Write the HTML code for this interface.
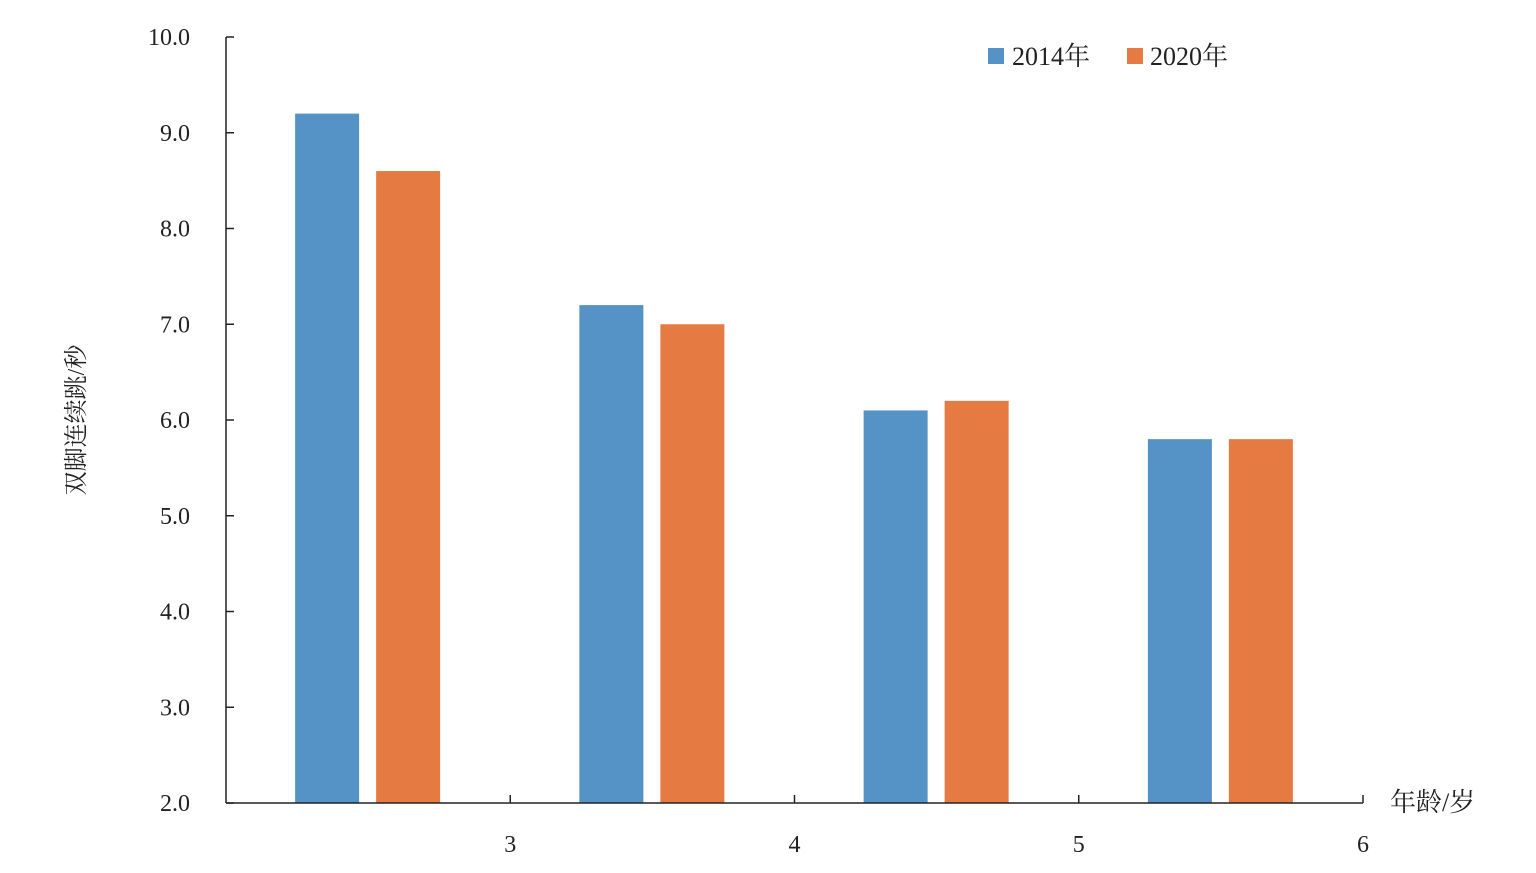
<!DOCTYPE html>
<html><head><meta charset="utf-8"><style>
html,body{margin:0;padding:0;background:#fff;}
svg text{font-family:"Liberation Serif","Noto Serif CJK SC",serif;fill:#222;}
</style></head><body>
<svg id="chart" width="1536" height="868"></svg>
<script>
const categories=["3","4","5","6"];
const series2014=[9.2,7.2,6.1,5.8];
const series2020=[8.6,7.0,6.2,5.8];
const yTicks=[2,3,4,5,6,7,8,9,10];
const seriesNames=["2014年","2020年"];
const colors=["#5592c6","#e57a42"];
const svg=document.getElementById('chart');
const NS='http://www.w3.org/2000/svg';
const X0=226,X1=1363,Y0=803,Y1=37,yMin=2,yMax=10;
const bandW=(X1-X0)/categories.length;
const y=v=>Y0-(v-yMin)/(yMax-yMin)*(Y0-Y1);
const xc=i=>X0+bandW*(i+0.5);
function el(t,a,p){const e=document.createElementNS(NS,t);for(const k in a)e.setAttribute(k,a[k]);(p||svg).appendChild(e);return e;}
// bars
[series2014,series2020].forEach((s,si)=>{
  s.forEach((v,i)=>{
    const bx=si===0?xc(i)-73:xc(i)+8;
    const r=el('rect',{x:bx,y:y(v),width:64,height:Y0-y(v),fill:colors[si]});
    
    
  });
});
// axes
const ya=el('line',{x1:X0,y1:Y1,x2:X0,y2:Y0,stroke:'#222','stroke-width':1.5});


const xa=el('line',{x1:X0,y1:Y0,x2:X1,y2:Y0,stroke:'#222','stroke-width':1.5});


yTicks.forEach(t=>{
  el('line',{x1:X0,y1:y(t),x2:X0+8,y2:y(t),stroke:'#222','stroke-width':1.5});
  const tx=el('text',{x:190,y:y(t)+8,'text-anchor':'end','font-size':24});
  tx.textContent=t.toFixed(1);
  
  
});
categories.forEach((c,i)=>{
  const xt=X0+bandW*(i+1);
  el('line',{x1:xt,y1:Y0,x2:xt,y2:Y0-8,stroke:'#222','stroke-width':1.5});
  const tx=el('text',{x:xt,y:852,'text-anchor':'middle','font-size':24});
  tx.textContent=c;
  
  
});
const yt=el('text',{x:0,y:0,'text-anchor':'middle','font-size':24,transform:'translate(84,420) rotate(-90)'});
yt.textContent='双脚连续跳/秒';


const xt=el('text',{x:1390,y:811,'font-size':26});
xt.textContent='年龄/岁';


// legend
[[988,1012],[1127,1150]].forEach((p,i)=>{
  const r=el('rect',{x:p[0],y:48,width:16,height:16,fill:colors[i]});
  
  
  const t=el('text',{x:p[1],y:65,'font-size':26});
  t.textContent=seriesNames[i];
  
  
});
</script>
</body></html>
